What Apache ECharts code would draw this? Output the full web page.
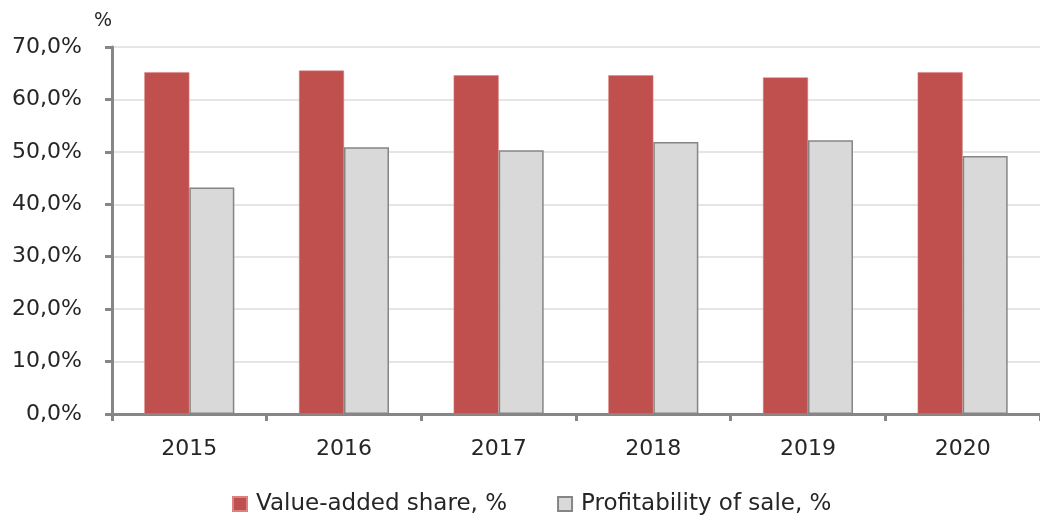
<!DOCTYPE html>
<html>
<head>
<meta charset="utf-8">
<script src="https://cdn.jsdelivr.net/npm/echarts@6/dist/echarts.min.js"></script>
<style>
  html, body { margin: 0; padding: 0; background: #fff; }
  #chart { width: 1040px; height: 515px; }
</style>
</head>
<body>
<div id="chart"></div>
<script>
const years = ['2015', '2016', '2017', '2018', '2019', '2020'];
const valueAdded = [65.2, 65.5, 64.6, 64.6, 64.2, 65.2];
const profitability = [43.2, 50.9, 50.3, 51.9, 52.2, 49.2];
const seriesNames = ['Value-added share, %', 'Profitability of sale, %'];

const chart = echarts.init(document.getElementById('chart'));
const font = '"DejaVu Sans", sans-serif';
const axisGrey = '#868686';

chart.setOption({
  backgroundColor: '#fff',
  textStyle: { fontFamily: font },
  legend: {
    data: seriesNames,
    top: 492,
    left: 232,
    padding: 0,
    icon: 'rect',
    itemWidth: 14,
    itemHeight: 14,
    itemGap: 50,
    textStyle: { fontSize: 23, lineHeight: 24, color: '#262626', fontFamily: font, padding: [0, 0, 0, 4] }
  },
  grid: { left: 112, width: 933, top: 47, bottom: 101 },
  xAxis: {
    type: 'category',
    data: years,
    axisLine: { lineStyle: { color: axisGrey, width: 3 } },
    axisTick: { show: true, length: 7, lineStyle: { color: axisGrey, width: 3 } },
    axisLabel: { fontSize: 22, color: '#262626', margin: 24 }
  },
  yAxis: {
    type: 'value',
    min: 0,
    max: 70,
    interval: 10,
    name: '%',
    nameGap: 16,
    nameTextStyle: { fontSize: 19, color: '#262626', align: 'right' },
    axisLine: { show: true, lineStyle: { color: axisGrey, width: 3 } },
    axisTick: { show: true, length: 7, lineStyle: { color: axisGrey, width: 3 } },
    axisLabel: {
      fontSize: 22,
      color: '#262626',
      margin: 30,
      formatter: v => v.toFixed(1).replace('.', ',') + '%'
    },
    splitLine: { lineStyle: { color: '#dcdcdc', width: 1.5 } }
  },
  series: [
    {
      name: seriesNames[0],
      type: 'bar',
      data: valueAdded,
      barWidth: 45,
      barGap: '0%',
      itemStyle: { color: '#C0504D', borderColor: '#d98280', borderWidth: 0.5 }
    },
    {
      name: seriesNames[1],
      type: 'bar',
      data: profitability,
      barWidth: 45,
      barGap: '0%',
      itemStyle: { color: '#D9D9D9', borderColor: '#858585', borderWidth: 1.5 }
    }
  ]
});
</script>
</body>
</html>
